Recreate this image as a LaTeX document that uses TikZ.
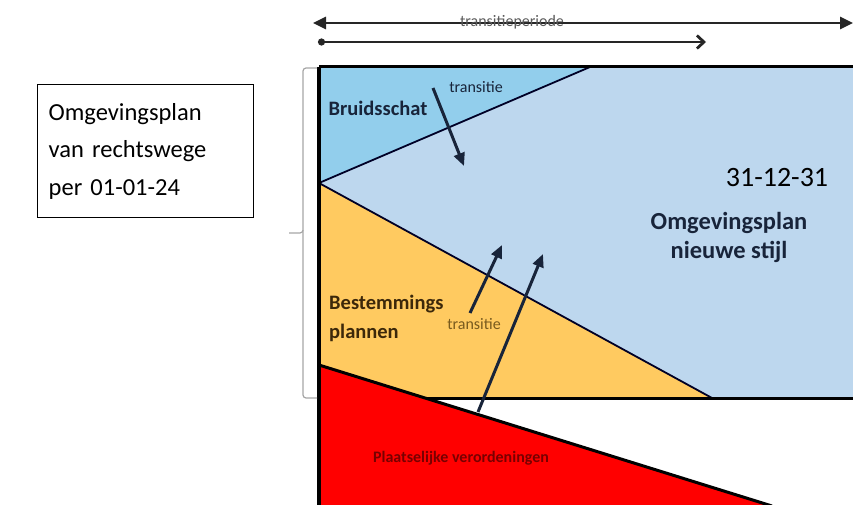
\documentclass[tikz,border=0pt]{standalone}
\usepackage{fontspec}
\setmainfont{Carlito}
\usetikzlibrary{arrows.meta,positioning,calc}

\definecolor{bruidblue}{RGB}{146,206,236}
\definecolor{newblue}{RGB}{189,215,238}
\definecolor{bpyellow}{RGB}{255,202,96}
\definecolor{pvred}{RGB}{255,0,0}
\definecolor{navytext}{RGB}{24,36,58}
\definecolor{browntext}{RGB}{60,40,10}
\definecolor{olivetext}{RGB}{120,90,30}
\definecolor{darkredtext}{RGB}{120,0,0}

\begin{document}
\begin{tikzpicture}[
    x=1pt, y=-1pt,
    planline/.style={draw=black!85!blue, line width=1.8pt},
    edgeline/.style={draw=black, line width=3pt},
    transarrow/.style={-{Triangle[length=13pt,width=11pt]}, line width=3pt, draw=navytext},
    periodarrow/.style={line width=2.8pt, draw=black!85},
    bracket/.style={draw=gray!70, line width=1.2pt},
    title/.style={font=\fontsize{24.5}{29}\selectfont\bfseries, align=center, text=navytext},
    label/.style={font=\fontsize{16}{19}\selectfont, inner sep=1pt}
]
    \useasboundingbox (0,0) rectangle (853,505);

    % --- 1. Corner points of the plan areas ---
    \coordinate (tl) at (319,67);
    \coordinate (tr) at (856,67);
    \coordinate (br) at (856,398);
    \coordinate (bl) at (319,398);
    \coordinate (bs_end) at (590,67);
    \coordinate (bp_top) at (319,183);
    \coordinate (bp_end) at (712,398);
    \coordinate (pv_top) at (319,365);
    \coordinate (pv_end) at (772,506);
    \coordinate (pv_bl) at (319,506);

    % --- 2. Filled areas ---
    \fill[newblue] (tl) rectangle (br);
    \fill[bruidblue] (tl) -- (bs_end) -- (bp_top) -- cycle;
    \fill[bpyellow] (bp_top) -- (bp_end) -- (bl) -- cycle;
    \draw[planline] (bp_top) -- (bs_end);
    \draw[planline] (bp_top) -- (bp_end);
    \draw[edgeline] (tl) -- (tr);
    \draw[edgeline] (bl) -- (br);
    \fill[pvred] (pv_top) -- (pv_end) -- (pv_bl) -- cycle;
    \draw[edgeline] (pv_top) -- (pv_end);
    \draw[draw=black, line width=4pt] (tl) -- (pv_bl);

    % --- 3. Texts in the areas ---
    \node[font=\fontsize{20.5}{27}\selectfont\bfseries, text=navytext] (bruid) at (378,108) {Bruidsschat};
    \node[font=\fontsize{20.5}{29}\selectfont\bfseries, text=browntext, align=left, anchor=west, inner sep=0pt] (bestem) at (329,318) {Bestemmings\\plannen};
    \node[font=\fontsize{16}{19}\selectfont\bfseries, text=darkredtext] (pvtext) at (461,458) {Plaatselijke verordeningen};
    \node[font=\fontsize{28}{32}\selectfont] (date) at (777,178) {31-12-31};
    \node[title] (newplan) at (729,237) {Omgevingsplan\\nieuwe stijl};
    \node[label, text=navytext] (trans_top) at (476,87) {transitie};
    \node[label, text=olivetext] (trans_mid) at (474,324) {transitie};

    % --- 4. Transition arrows ---
    \coordinate (a1_s) at (433,88);
    \coordinate (a1_e) at (464,166);
    \coordinate (a2_s) at (470,313);
    \coordinate (a2_e) at (502,245);
    \coordinate (a3_s) at (478,412);
    \coordinate (a3_e) at (543,254);
    \draw[transarrow] (a1_s) -- (a1_e);
    \draw[transarrow] (a2_s) -- (a2_e);
    \draw[transarrow] (a3_s) -- (a3_e);

    % --- 5. Period arrows on top ---
    \coordinate (p1_s) at (313,23);
    \coordinate (p1_e) at (853,23);
    \coordinate (p2_s) at (318,42);
    \coordinate (p2_e) at (706,42);
    \draw[periodarrow, {Triangle[length=13pt,width=12pt]}-{Triangle[length=13pt,width=12pt]}] (p1_s) -- (p1_e);
    \node[label, text=black!65] (period) at (512,22) {transitieperiode};
    \draw[periodarrow, {Circle[length=7pt]}-{Straight Barb[length=7pt,width=13pt]}] (p2_s) -- (p2_e);

    % --- 6. Bracket and left box ---
    \draw[bracket, rounded corners=3pt] (317,68) -| (303,233) -- (289,233);
    \draw[bracket, rounded corners=3pt] (303,230) |- (317,398);
    \node[draw=black, line width=1.4pt, anchor=north west, minimum width=216pt, minimum height=133pt,
          text width=194pt, inner xsep=11pt, align=left,
          font=\fontsize{24.5}{37.5}\selectfont] (rechts) at (37,84) {Omgevingsplan\\van rechtswege\\per 01-01-24};
\end{tikzpicture}
\end{document}
